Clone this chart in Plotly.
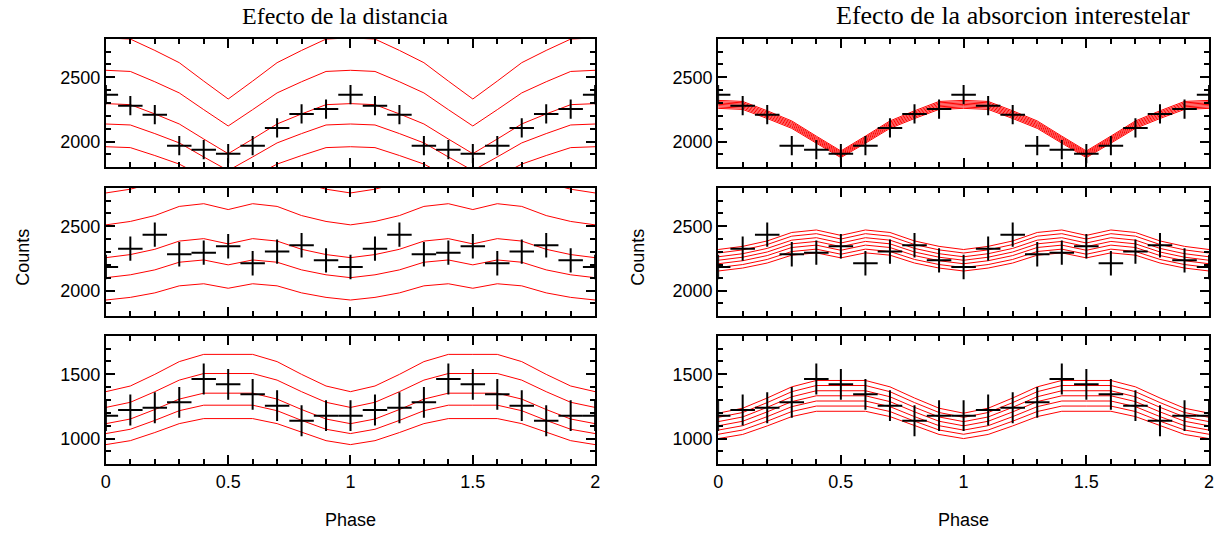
import plotly.graph_objects as go

# ---------------- data ----------------
phase = [0.0, 0.1, 0.2, 0.3, 0.4, 0.5, 0.6, 0.7, 0.8, 0.9,
         1.0, 1.1, 1.2, 1.3, 1.4, 1.5, 1.6, 1.7, 1.8, 1.9, 2.0]

counts_top = [2365, 2279, 2209, 1968, 1937, 1906, 1968, 2106, 2215, 2253,
              2365, 2279, 2209, 1968, 1937, 1906, 1968, 2106, 2215, 2253, 2365]
counts_mid = [2183, 2326, 2435, 2282, 2295, 2344, 2212, 2303, 2352, 2235,
              2183, 2326, 2435, 2282, 2295, 2344, 2212, 2303, 2352, 2235, 2183]
counts_bot = [1178, 1222, 1240, 1282, 1463, 1422, 1344, 1256, 1139, 1178,
              1178, 1222, 1240, 1282, 1463, 1422, 1344, 1256, 1139, 1178, 1178]

err_top = 75
err_mid = 95
err_bot = 120
phase_halfwidth = 0.05

# model light curves (reference model) for each energy band
model_top = [2295, 2287, 2215, 2137, 2020, 1906, 2020, 2137, 2215, 2287,
             2295, 2287, 2215, 2137, 2020, 1906, 2020, 2137, 2215, 2287, 2295]
model_mid = [2256, 2280, 2321, 2385, 2404, 2363, 2404, 2385, 2321, 2280,
             2256, 2280, 2321, 2385, 2404, 2363, 2404, 2385, 2321, 2280, 2256]
model_bot = [1116, 1152, 1226, 1307, 1353, 1353, 1353, 1307, 1226, 1152,
             1116, 1152, 1226, 1307, 1353, 1353, 1353, 1307, 1226, 1152, 1116]

# scale factors of the model curves
distance_factors = [1.223, 1.113, 1.0, 0.931, 0.854]
absorb_factors_top = [0.984, 0.9885, 0.993, 0.9975, 1.002, 1.0065, 1.011]
absorb_factors_mid = [0.954, 0.966, 0.979, 0.991, 1.003, 1.016, 1.028]
absorb_factors_bot = [0.896, 0.926, 0.955, 0.985, 1.014, 1.044, 1.073]

titles = ["Efecto de la distancia", "Efecto de la absorcion interestelar"]
y_ranges = [[1800, 2800], [1800, 2800], [800, 1800]]

# ---------------- layout geometry ----------------
W, H = 1224, 533
x_px = [(101.7, 595.0), (719.0, 1214.0)]
y_px = [(38.7, 167.3), (187.7, 316.3), (335.7, 464.3)]

fig = go.Figure()
counts_rows = [counts_top, counts_mid, counts_bot]
err_rows = [err_top, err_mid, err_bot]
model_rows = [model_top, model_mid, model_bot]
absorb_rows = [absorb_factors_top, absorb_factors_mid, absorb_factors_bot]

SANS = "Liberation Sans, Arial"
SERIF = "Liberation Serif, Times New Roman"

layout_axes = {}
for r in range(3):
    for c in range(2):
        k = r * 2 + c + 1
        xa = "x" if k == 1 else f"x{k}"
        ya = "y" if k == 1 else f"y{k}"
        factors = distance_factors if c == 0 else absorb_rows[r]
        for f in factors:
            fig.add_trace(go.Scatter(
                x=phase, y=[v * f for v in model_rows[r]],
                mode="lines", line=dict(color="#ff0000", width=1),
                xaxis=xa, yaxis=ya, showlegend=False, hoverinfo="skip"))
        fig.add_trace(go.Scatter(
            x=phase, y=counts_rows[r], mode="markers",
            marker=dict(size=1, color="black"),
            error_x=dict(type="constant", value=phase_halfwidth, width=0,
                         thickness=2, color="black"),
            error_y=dict(type="constant", value=err_rows[r], width=0,
                         thickness=2, color="black"),
            xaxis=xa, yaxis=ya, showlegend=False, cliponaxis=True))

        x0, x1 = x_px[c]
        y0, y1 = y_px[r]
        xname = "xaxis" if k == 1 else f"xaxis{k}"
        yname = "yaxis" if k == 1 else f"yaxis{k}"
        layout_axes[xname] = dict(
            domain=[x0 / W, x1 / W], anchor=ya, range=[0, 2],
            showgrid=False, zeroline=False, showline=True, linecolor="black",
            linewidth=2, mirror="allticks", ticks="inside", ticklen=9,
            tickwidth=1.5, tickcolor="black", dtick=0.5, tick0=0,
            minor=dict(dtick=0.1, ticks="inside", ticklen=5, tickwidth=1.5,
                       tickcolor="black"),
            showticklabels=(r == 2),
            tickfont=dict(family=SANS, size=18, color="black"))
        layout_axes[yname] = dict(
            domain=[1 - y1 / H, 1 - y0 / H], anchor=xa, range=y_ranges[r],
            showgrid=False, zeroline=False, showline=True, linecolor="black",
            linewidth=2, mirror="allticks", ticks="inside", ticklen=9,
            tickwidth=1.5, tickcolor="black", dtick=500, tick0=0,
            minor=dict(dtick=100, ticks="inside", ticklen=5, tickwidth=1.5,
                       tickcolor="black"),
            tickfont=dict(family=SANS, size=18, color="black"))

annotations = [
    dict(text=titles[0], x=343 / W, y=1 - 16 / H, xref="paper", yref="paper",
         showarrow=False, xanchor="center", yanchor="middle",
         font=dict(family=SERIF, size=24, color="black")),
    dict(text=titles[1], x=1016 / W, y=1 - 16 / H, xref="paper", yref="paper",
         showarrow=False, xanchor="center", yanchor="middle",
         font=dict(family=SERIF, size=26, color="black")),
]
for cx in [18, 638]:
    annotations.append(dict(text="Counts", x=cx / W, y=1 - 257 / H, xref="paper",
                            yref="paper", showarrow=False, textangle=-90,
                            xanchor="center", yanchor="middle",
                            font=dict(family=SANS, size=18, color="black")))
for cx in [348, 966]:
    annotations.append(dict(text="Phase", x=cx / W, y=1 - 520 / H, xref="paper",
                            yref="paper", showarrow=False,
                            xanchor="center", yanchor="middle",
                            font=dict(family=SANS, size=18, color="black")))

fig.update_layout(
    width=W, height=H, margin=dict(l=0, r=0, t=0, b=0),
    paper_bgcolor="white", plot_bgcolor="white",
    annotations=annotations, **layout_axes)

fig.write_html("out.html")
